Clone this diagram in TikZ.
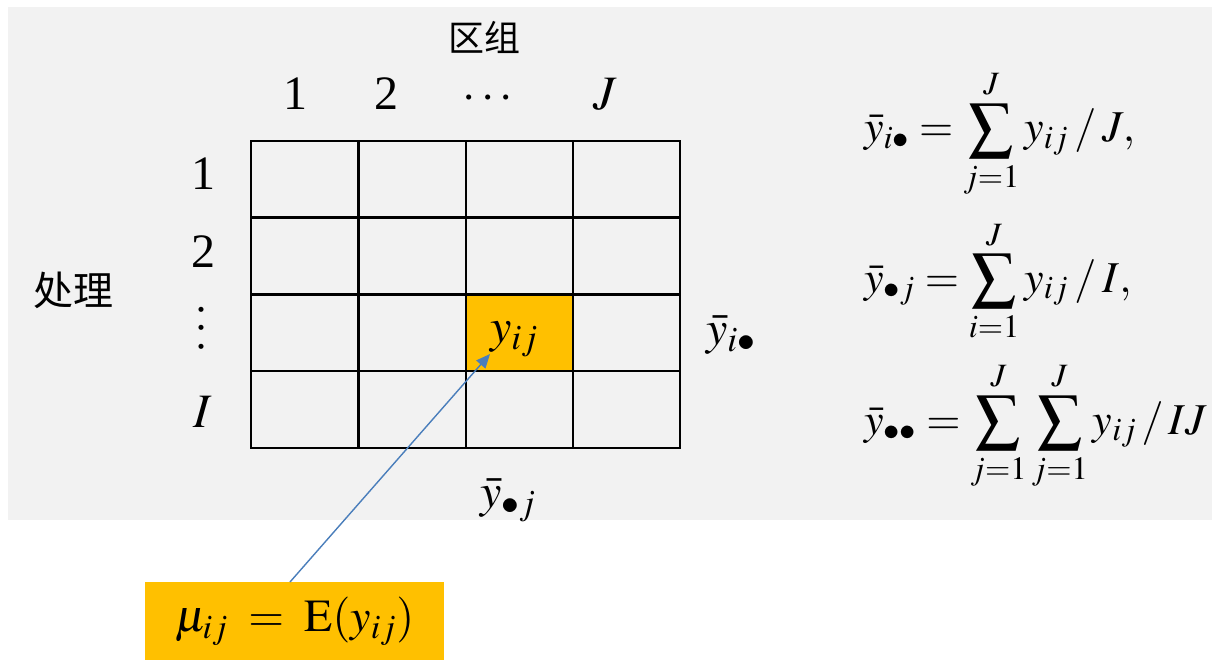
\documentclass[tikz,border=0pt]{standalone}
\usepackage{mathptmx}
\usepackage[no-math]{fontspec}
\setmainfont{Liberation Serif}
\newfontfamily\cjk{Noto Sans CJK SC}
\usetikzlibrary{arrows.meta}
\definecolor{bggray}{HTML}{F2F2F2}
\definecolor{hlorange}{HTML}{FFC000}
\definecolor{arrowblue}{HTML}{4A7EBB}
\begin{document}
\begin{tikzpicture}[x=1pt,y=-1pt,
  every node/.style={inner sep=0pt, outer sep=0pt},
  lab/.style={font=\fontsize{48}{56}\selectfont},
  cjklab/.style={font=\cjk\fontsize{36}{42}\selectfont},
  eq/.style={font=\fontsize{44}{52}\selectfont, anchor=west},
  gridline/.style={line width=2.5pt, draw=black},
  conn/.style={draw=arrowblue, line width=1.4pt, -{Triangle[length=14pt,width=12pt]}}]
\useasboundingbox (0,0) rectangle (1212,660);
\fill[bggray] (8,7) rectangle (1212,520);
% highlighted cell
\node[fill=hlorange, minimum width=107pt, minimum height=76.5pt] (cell) at (519.5,332.75) {};
% grid
\draw[gridline] (251,141) rectangle (680,448);
\foreach \x in {358.5,466,573} \draw[gridline] (\x,141) -- (\x,448);
\foreach \y in {217.5,294.5,371} \draw[gridline] (251,\y) -- (680,\y);
% header labels
\node[cjklab] (qz) at (484,37) {区组};
\node[lab, anchor=base] (c1) at (295,110) {1};
\node[lab, anchor=base] (c2) at (386,110) {2};
\node[lab, anchor=base] (c3) at (488,110) {$\cdots$};
\node[lab, anchor=base] (c4) at (605,110) {$J$};
\node[font=\cjk\fontsize{40}{46}\selectfont] (cl) at (73,290) {处理};
\node[lab, anchor=base] (r1) at (203,190) {1};
\node[lab, anchor=base] (r2) at (203,268) {2};
\node[lab, rotate=90] (r3) at (203,328) {$\cdots$};
\node[lab, anchor=base] (r4) at (203,427) {$I$};
% cell and margin means
\node[lab, anchor=base west] (yij) at (490,342) {$y_{ij}$};
\node[lab, anchor=base west] (ri) at (706,344) {$\bar{y}_{i\bullet}$};
\node[lab, anchor=base west] (cj) at (480,507) {$\bar{y}_{\bullet j}$};
% formulas
\node[eq] (f1) at (864,134) {$\displaystyle \bar{y}_{i\bullet} = \sum_{j=1}^{J} y_{ij}\:/\:J,$};
\node[eq] (f2) at (864,281) {$\displaystyle \bar{y}_{\bullet j} = \sum_{i=1}^{J} y_{ij}\:/\:I,$};
\node[eq] (f3) at (864,426) {$\displaystyle \bar{y}_{\bullet\bullet} = \sum_{j=1}^{J}\sum_{j=1}^{J} y_{ij}\,/\,IJ$};
% bottom box and arrow
\node[fill=hlorange, minimum width=299pt, minimum height=78pt, font=\fontsize{46}{54}\selectfont] (box) at (294.5,621) {$\mu_{ij} \;=\; \mathrm{E}(y_{ij})$};
\coordinate (tip) at (490,354);
\draw[conn] ([xshift=-4.5pt]box.north) -- (tip);
\end{tikzpicture}
\end{document}
